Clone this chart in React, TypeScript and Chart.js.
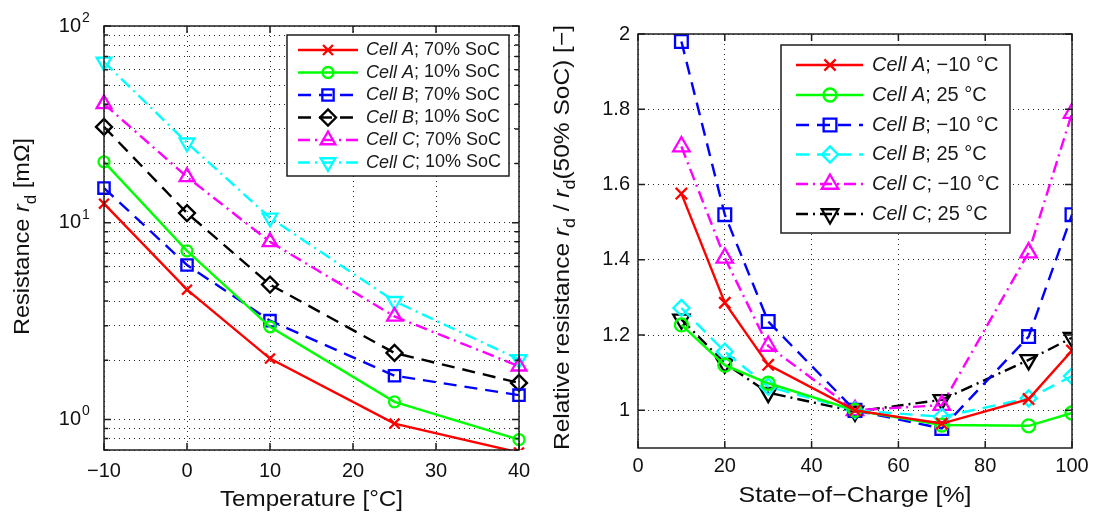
import React, { useEffect, useRef } from 'react';
import { Chart, registerables, PointElement } from 'chart.js';

Chart.register(...registerables);

const FONT = '"Liberation Sans", Arial, Helvetica, sans-serif';

// ---------------- Left panel: resistance vs temperature ----------------
const tempC = [-10, 0, 10, 25, 40];
const leftXTicks = [-10, 0, 10, 20, 30, 40];
const leftXLabels = ['−10', '0', '10', '20', '30', '40'];
const leftYGrid = [0.7, 0.8, 0.9, 1, 2, 3, 4, 5, 6, 7, 8, 9, 10, 20, 30, 40, 50, 60, 70, 80, 90, 100];
const leftYMajor = [1, 10, 100];
const leftYExponents = ['0', '1', '2'];

const cellA70 = [12.5, 4.57, 2.04, 0.954, 0.68];
const cellA10 = [20.4, 7.2, 2.96, 1.23, 0.79];
const cellB70 = [15.0, 6.1, 3.18, 1.67, 1.33];
const cellB10 = [30.7, 11.2, 4.85, 2.18, 1.535];
const cellC70 = [40.2, 17.1, 8.0, 3.34, 1.865];
const cellC10 = [65.7, 25.5, 10.6, 3.99, 2.02];

const leftLegendCells = ['Cell A', 'Cell A', 'Cell B', 'Cell B', 'Cell C', 'Cell C'];
const leftLegendSuffix = ['; 70% SoC', '; 10% SoC', '; 70% SoC', '; 10% SoC', '; 70% SoC', '; 10% SoC'];

// ---------------- Right panel: relative resistance vs SoC ----------------
const soc = [10, 20, 30, 50, 70, 90, 100];
const rightXTicks = [0, 20, 40, 60, 80, 100];
const rightXLabels = ['0', '20', '40', '60', '80', '100'];
const rightYTicks = [1, 1.2, 1.4, 1.6, 1.8, 2];
const rightYLabels = ['1', '1.2', '1.4', '1.6', '1.8', '2'];

const cellAm10 = [1.576, 1.286, 1.121, 1.0, 0.965, 1.03, 1.159];
const cellA25 = [1.227, 1.12, 1.072, 1.0, 0.961, 0.959, 0.993];
const cellBm10 = [1.98, 1.52, 1.236, 1.0, 0.952, 1.196, 1.52];
const cellB25 = [1.272, 1.156, 1.063, 1.0, 0.983, 1.032, 1.091];
const cellCm10 = [1.701, 1.405, 1.171, 1.0, 1.014, 1.419, 1.79];
const cellC25 = [1.242, 1.125, 1.047, 0.997, 1.028, 1.134, 1.193];

const rightLegendCells = ['Cell A', 'Cell A', 'Cell B', 'Cell B', 'Cell C', 'Cell C'];
const rightLegendSuffix = ['; −10 °C', '; 25 °C', '; −10 °C', '; 25 °C', '; −10 °C', '; 25 °C'];

// ---------------- styles ----------------
const SOLID: number[] = [];
const DASH = [13, 8];
const DASHDOT = [12, 5, 2, 5];
const GRID_DASH = [1, 4];
const TRANSPARENT = 'rgba(0,0,0,0)';

function series(
  label: string,
  xs: number[],
  ys: number[],
  color: string,
  dash: number[],
  pointStyle: string,
  radius: number,
  rotation: number,
  clip?: any
) {
  const d: any = {
    label,
    data: xs.map((x, i) => ({ x, y: ys[i] })),
    borderColor: color,
    backgroundColor: color,
    borderWidth: 2.4,
    borderDash: dash,
    pointStyle,
    pointRadius: radius,
    pointHoverRadius: radius,
    pointRotation: rotation,
    pointBorderColor: color,
    pointBackgroundColor: TRANSPARENT,
    pointBorderWidth: 2.3,
    tension: 0,
    fill: false,
  };
  if (clip) d.clip = clip;
  return d;
}

type Part = { t: string; i?: boolean; sub?: boolean };

function drawRich(ctx: CanvasRenderingContext2D, parts: Part[], x: number, y: number, angle: number, size: number, targetW: number) {
  ctx.save();
  ctx.translate(x, y);
  if (angle) ctx.rotate(angle);
  const fontOf = (p: Part) => `${p.i ? 'italic ' : ''}${p.sub ? Math.round(size * 0.72) : size}px ${FONT}`;
  const widths = parts.map((p) => {
    ctx.font = fontOf(p);
    return ctx.measureText(p.t).width;
  });
  const total = widths.reduce((a, b) => a + b, 0);
  const sx = targetW ? targetW / total : 1;
  ctx.scale(sx, 1);
  ctx.fillStyle = '#111';
  ctx.textAlign = 'left';
  ctx.textBaseline = 'alphabetic';
  let cx = -total / 2;
  parts.forEach((p, k) => {
    ctx.font = fontOf(p);
    ctx.fillText(p.t, cx, p.sub ? size * 0.3 : 0);
    cx += widths[k];
  });
  ctx.restore();
}

function drawFrame(chart: any, xTicks: number[], yTicks: number[], yMajor: number[] | null, tickLen: number) {
  const { ctx, chartArea: a, scales } = chart;
  ctx.save();
  ctx.setLineDash([]);
  ctx.strokeStyle = '#1e1e1e';
  ctx.lineWidth = 1.5;
  ctx.beginPath();
  xTicks.forEach((v) => {
    const px = scales.x.getPixelForValue(v);
    ctx.moveTo(px, a.bottom);
    ctx.lineTo(px, a.bottom - tickLen);
    ctx.moveTo(px, a.top);
    ctx.lineTo(px, a.top + tickLen);
  });
  yTicks.forEach((v) => {
    const py = scales.y.getPixelForValue(v);
    const L = yMajor && !yMajor.includes(v) ? tickLen * 0.6 : tickLen;
    ctx.moveTo(a.left, py);
    ctx.lineTo(a.left + L, py);
    ctx.moveTo(a.right, py);
    ctx.lineTo(a.right - L, py);
  });
  ctx.stroke();
  ctx.strokeRect(a.left, a.top, a.right - a.left, a.bottom - a.top);
  ctx.restore();
}

function drawLegend(
  chart: any,
  box: { x: number; y: number; w: number; h: number },
  rows: number[],
  lineX1: number,
  lineX2: number,
  markX: number,
  textX: number,
  fontSize: number,
  cells: string[],
  suffixes: string[]
) {
  const ctx: CanvasRenderingContext2D = chart.ctx;
  ctx.save();
  ctx.setLineDash([]);
  ctx.fillStyle = '#ffffff';
  ctx.fillRect(box.x, box.y, box.w, box.h);
  ctx.strokeStyle = '#1e1e1e';
  ctx.lineWidth = 1.5;
  ctx.strokeRect(box.x, box.y, box.w, box.h);
  chart.data.datasets.forEach((d: any, i: number) => {
    const y = rows[i];
    ctx.save();
    ctx.strokeStyle = d.borderColor;
    ctx.lineWidth = d.borderWidth;
    ctx.setLineDash(d.borderDash);
    ctx.beginPath();
    ctx.moveTo(lineX1, y);
    ctx.lineTo(lineX2, y);
    ctx.stroke();
    ctx.setLineDash([]);
    const pt: any = new PointElement({
      x: markX,
      y,
      options: {
        pointStyle: d.pointStyle,
        radius: d.pointRadius,
        hoverRadius: d.pointRadius,
        rotation: d.pointRotation,
        borderWidth: d.pointBorderWidth,
        borderColor: d.pointBorderColor,
        backgroundColor: TRANSPARENT,
      },
    } as any);
    pt.draw(ctx, { left: -5000, top: -5000, right: 5000, bottom: 5000 });
    ctx.restore();
    ctx.fillStyle = '#1a1a1a';
    ctx.textAlign = 'left';
    ctx.textBaseline = 'middle';
    ctx.font = `italic ${fontSize}px ${FONT}`;
    ctx.fillText(cells[i], textX, y);
    const w = ctx.measureText(cells[i]).width;
    ctx.font = `${fontSize}px ${FONT}`;
    ctx.fillText(suffixes[i], textX + w, y);
  });
  ctx.restore();
}

const leftPlugin = {
  id: 'leftDecor',
  afterDraw(chart: any) {
    const { ctx, scales } = chart;
    drawFrame(chart, leftXTicks, leftYGrid, leftYMajor, 7);
    ctx.save();
    ctx.fillStyle = '#111';
    leftYMajor.forEach((v, k) => {
      const py = scales.y.getPixelForValue(v);
      ctx.font = `20px ${FONT}`;
      ctx.textAlign = 'right';
      ctx.textBaseline = 'middle';
      ctx.fillText('10', 81, py);
      ctx.font = `14px ${FONT}`;
      ctx.textAlign = 'left';
      ctx.fillText(leftYExponents[k], 82, py - 8);
    });
    ctx.restore();
    drawLegend(
      chart,
      { x: 287, y: 35, w: 222, h: 141 },
      [50, 72.5, 95, 117.5, 140, 162.5],
      298,
      358,
      328,
      366,
      18,
      leftLegendCells,
      leftLegendSuffix
    );
    drawRich(ctx, [{ t: 'Temperature [°C]' }], 311.5, 506, 0, 22, 183);
    drawRich(
      ctx,
      [{ t: 'Resistance ' }, { t: 'r', i: true }, { t: 'd', sub: true }, { t: ' [mΩ]' }],
      29,
      236.5,
      -Math.PI / 2,
      22,
      197
    );
  },
};

const rightPlugin = {
  id: 'rightDecor',
  afterDraw(chart: any) {
    const { ctx } = chart;
    drawFrame(chart, rightXTicks, rightYTicks, null, 7);
    drawLegend(
      chart,
      { x: 233, y: 45, w: 229, h: 188 },
      [65, 95, 125, 154.5, 184, 214],
      248,
      315,
      282,
      324,
      20,
      rightLegendCells,
      rightLegendSuffix
    );
    drawRich(ctx, [{ t: 'State−of−Charge [%]' }], 307, 502, 0, 22, 233);
    drawRich(
      ctx,
      [
        { t: 'Relative resistance ' },
        { t: 'r', i: true },
        { t: 'd', sub: true },
        { t: ' / ' },
        { t: 'r', i: true },
        { t: 'd', sub: true },
        { t: '(50% SoC) [−]' },
      ],
      20.5,
      237.5,
      -Math.PI / 2,
      22,
      425
    );
  },
};

const gridOpts = { color: 'rgba(0,0,0,0.85)', lineWidth: 1, drawTicks: false };
const borderOpts = { display: false, dash: GRID_DASH };

function leftConfig(): any {
  const clip = { left: 15, right: 15, top: 15, bottom: 0 };
  return {
    type: 'line',
    data: {
      datasets: [
        series('Cell A; 70% SoC', tempC, cellA70, '#ff0000', SOLID, 'crossRot', 7, 0, clip),
        series('Cell A; 10% SoC', tempC, cellA10, '#00ff00', SOLID, 'circle', 5.5, 0, clip),
        series('Cell B; 70% SoC', tempC, cellB70, '#0000ff', DASH, 'rect', 8, 0, clip),
        series('Cell B; 10% SoC', tempC, cellB10, '#000000', DASH, 'rectRot', 8, 0, clip),
        series('Cell C; 70% SoC', tempC, cellC70, '#ff00ff', DASHDOT, 'triangle', 8.5, 0, clip),
        series('Cell C; 10% SoC', tempC, cellC10, '#00ffff', DASHDOT, 'triangle', 8.5, 180, clip),
      ],
    },
    options: {
      animation: false,
      responsive: false,
      devicePixelRatio: 1,
      events: [],
      layout: { padding: { top: 26, right: 29, left: 0, bottom: 0 } },
      plugins: { legend: { display: false }, tooltip: { enabled: false }, title: { display: false } },
      scales: {
        x: {
          type: 'linear',
          min: -10,
          max: 40,
          afterBuildTicks: (s: any) => {
            s.ticks = leftXTicks.map((v) => ({ value: v }));
          },
          afterFit: (s: any) => {
            s.height = 65;
          },
          ticks: {
            font: { family: FONT, size: 20 },
            color: '#111',
            padding: 9,
            maxRotation: 0,
            autoSkip: false,
            callback: (_v: any, i: number) => leftXLabels[i],
          },
          grid: gridOpts,
          border: borderOpts,
        },
        y: {
          type: 'logarithmic',
          min: 0.7,
          max: 100,
          afterBuildTicks: (s: any) => {
            s.ticks = leftYGrid.map((v) => ({ value: v }));
          },
          afterFit: (s: any) => {
            s.width = 104;
          },
          ticks: { display: false },
          grid: gridOpts,
          border: borderOpts,
        },
      },
    },
    plugins: [leftPlugin],
  };
}

function rightConfig(): any {
  return {
    type: 'line',
    data: {
      datasets: [
        series('Cell A; −10 °C', soc, cellAm10, '#ff0000', SOLID, 'crossRot', 8, 0),
        series('Cell A; 25 °C', soc, cellA25, '#00ff00', SOLID, 'circle', 6.5, 0),
        series('Cell B; −10 °C', soc, cellBm10, '#0000ff', DASH, 'rect', 9, 0),
        series('Cell B; 25 °C', soc, cellB25, '#00ffff', DASH, 'rectRot', 8, 0),
        series('Cell C; −10 °C', soc, cellCm10, '#ff00ff', DASHDOT, 'triangle', 9.5, 0),
        series('Cell C; 25 °C', soc, cellC25, '#000000', DASHDOT, 'triangle', 9.5, 180),
      ],
    },
    options: {
      animation: false,
      responsive: false,
      devicePixelRatio: 1,
      events: [],
      layout: { padding: { top: 34, right: 24, left: 0, bottom: 0 } },
      plugins: { legend: { display: false }, tooltip: { enabled: false }, title: { display: false } },
      scales: {
        x: {
          type: 'linear',
          min: 0,
          max: 100,
          afterBuildTicks: (s: any) => {
            s.ticks = rightXTicks.map((v) => ({ value: v }));
          },
          afterFit: (s: any) => {
            s.height = 67;
          },
          ticks: {
            font: { family: FONT, size: 20 },
            color: '#111',
            padding: 6,
            maxRotation: 0,
            autoSkip: false,
            callback: (_v: any, i: number) => rightXLabels[i],
          },
          grid: gridOpts,
          border: borderOpts,
        },
        y: {
          type: 'linear',
          min: 0.9,
          max: 2,
          afterBuildTicks: (s: any) => {
            s.ticks = rightYTicks.map((v) => ({ value: v }));
          },
          afterFit: (s: any) => {
            s.width = 90;
          },
          ticks: {
            font: { family: FONT, size: 20 },
            color: '#111',
            padding: 8,
            autoSkip: false,
            callback: (_v: any, i: number) => rightYLabels[i],
          },
          grid: gridOpts,
          border: borderOpts,
        },
      },
    },
    plugins: [rightPlugin],
  };
}

function Panel({ left, makeConfig }: { left: number; makeConfig: () => any }) {
  const ref = useRef<HTMLCanvasElement>(null);
  useEffect(() => {
    const chart = new Chart(ref.current as HTMLCanvasElement, makeConfig());
    return () => chart.destroy();
  }, []);
  return (
    <div style={{ position: 'absolute', left, top: 0, width: 548, height: 515 }}>
      <canvas ref={ref} width={548} height={515} style={{ width: 548, height: 515, display: 'block' }} />
    </div>
  );
}

export default function App() {
  return (
    <div style={{ position: 'absolute', left: 0, top: 0, width: 1096, height: 515, background: '#ffffff', overflow: 'hidden' }}>
      <Panel left={0} makeConfig={leftConfig} />
      <Panel left={548} makeConfig={rightConfig} />
    </div>
  );
}
